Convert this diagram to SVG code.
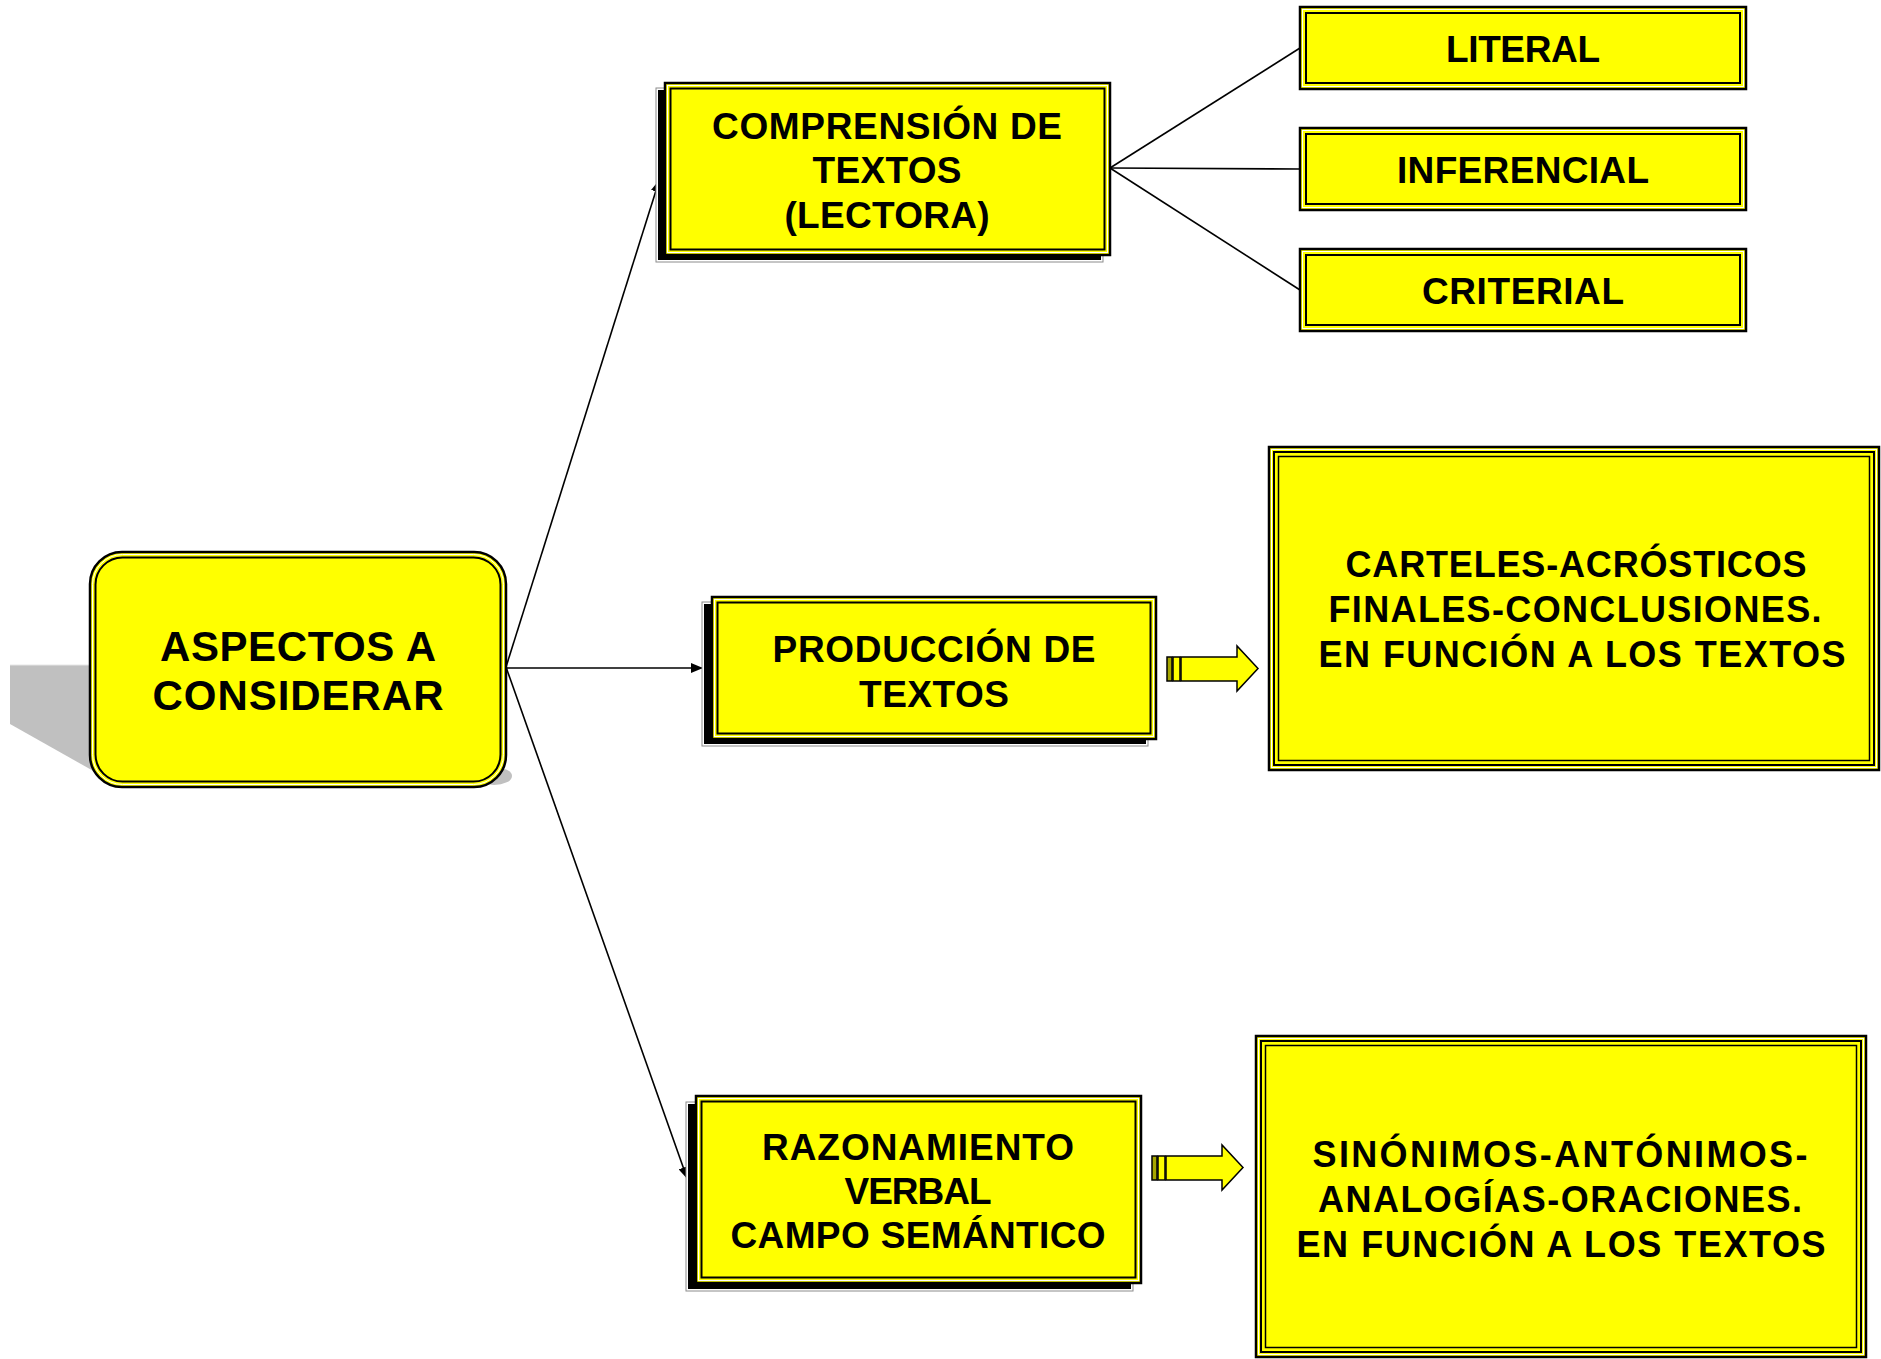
<svg xmlns="http://www.w3.org/2000/svg" width="1881" height="1359" viewBox="0 0 1881 1359">
<defs>
<style>
text{font-family:"Liberation Sans",Arial,sans-serif;font-weight:bold;fill:#000;text-anchor:middle}
.t37{font-size:37px}
.t42{font-size:42px}
.t36{font-size:36px}
.o{fill:#ffff00;stroke:#000;stroke-width:2.5}
.w{fill:none;stroke:#fff;stroke-width:1}
.i{fill:none;stroke:#000;stroke-width:2}
.back{fill:#000;stroke:#fff;stroke-width:2}
.backg{fill:none;stroke:#8c8c8c;stroke-width:1}
.ln{fill:none;stroke:#000;stroke-width:1.6}
.blk{fill:#ffff00;stroke:#000;stroke-width:1.5}
</style>
<marker id="ah" markerUnits="userSpaceOnUse" markerWidth="12" markerHeight="10" refX="11" refY="5" orient="auto"><path d="M0,0 L12,5 L0,10 Z" fill="#000"/></marker>
</defs>
<rect x="0" y="0" width="1881" height="1359" fill="#fff"/>

<g id="connectors">
<line class="ln" x1="506" y1="667" x2="659" y2="181" marker-end="url(#ah)"/>
<line class="ln" x1="506" y1="668" x2="702" y2="668" marker-end="url(#ah)"/>
<line class="ln" x1="506" y1="667" x2="687" y2="1178" marker-end="url(#ah)"/>
<line class="ln" x1="1110" y1="168" x2="1300" y2="48"/>
<line class="ln" x1="1110" y1="168" x2="1300" y2="169"/>
<line class="ln" x1="1110" y1="168" x2="1300" y2="290"/>
<g id="flecha1">
<rect x="1167" y="657" width="5" height="24" fill="#a6a600" stroke="#000" stroke-width="1.5"/>
<rect x="1173" y="657" width="7" height="24" class="blk"/>
<polygon points="1181,657 1237,657 1237,646 1258,668.5 1237,691 1237,681 1181,681" class="blk"/>
</g>
<g id="flecha2">
<rect x="1152" y="1156" width="5" height="24" fill="#a6a600" stroke="#000" stroke-width="1.5"/>
<rect x="1158" y="1156" width="7" height="24" class="blk"/>
<polygon points="1166,1156 1222,1156 1222,1145 1243,1167.5 1222,1190 1222,1180 1166,1180" class="blk"/>
</g>
</g>

<g id="aspectos">
<path d="M10,665 H200 V786 H120 L10,724 Z" fill="#c0c0c0"/>
<line x1="10" y1="665" x2="200" y2="665" stroke="#e6e6e6" stroke-width="1"/>
<ellipse cx="494" cy="776" rx="18" ry="9" fill="#c0c0c0"/>
<rect x="90" y="552" width="416" height="235" rx="32" class="o"/>
<rect x="92.5" y="554.5" width="411" height="230" rx="30" class="w"/>
<rect x="95.5" y="557.5" width="405" height="224" rx="27" class="i"/>
<text class="t42" x="298" y="661" textLength="276" lengthAdjust="spacing">ASPECTOS A</text>
<text class="t42" x="298" y="710" textLength="291" lengthAdjust="spacing">CONSIDERAR</text>
</g>

<g id="comprension">
<rect x="657" y="89" width="445" height="172" class="back"/>
<rect x="656" y="88" width="447" height="174" class="backg"/>
<rect x="665" y="83" width="445" height="172" class="o"/>
<rect x="667.5" y="85.5" width="440" height="167" class="w"/>
<rect x="670.5" y="88.5" width="434" height="161" class="i"/>
<text class="t37" x="887" y="139" textLength="350" lengthAdjust="spacing">COMPRENSIÓN DE</text>
<text class="t37" x="887" y="183" textLength="149" lengthAdjust="spacing">TEXTOS</text>
<text class="t37" x="887" y="228" textLength="205" lengthAdjust="spacing">(LECTORA)</text>
</g>

<g id="literal">
<rect x="1300" y="7" width="446" height="82" class="o"/>
<rect x="1302.5" y="9.5" width="441" height="77" class="w"/>
<rect x="1306" y="13" width="434" height="70" class="i"/>
<text class="t37" x="1523" y="62" textLength="154" lengthAdjust="spacing">LITERAL</text>
</g>
<g id="inferencial">
<rect x="1300" y="128" width="446" height="82" class="o"/>
<rect x="1302.5" y="130.5" width="441" height="77" class="w"/>
<rect x="1306" y="134" width="434" height="70" class="i"/>
<text class="t37" x="1523" y="183" textLength="252" lengthAdjust="spacing">INFERENCIAL</text>
</g>
<g id="criterial">
<rect x="1300" y="249" width="446" height="82" class="o"/>
<rect x="1302.5" y="251.5" width="441" height="77" class="w"/>
<rect x="1306" y="255" width="434" height="70" class="i"/>
<text class="t37" x="1523" y="304" textLength="202" lengthAdjust="spacing">CRITERIAL</text>
</g>

<g id="produccion">
<rect x="703" y="603" width="444" height="142" class="back"/>
<rect x="702" y="602" width="446" height="144" class="backg"/>
<rect x="712" y="597" width="444" height="142" class="o"/>
<rect x="714.5" y="599.5" width="439" height="137" class="w"/>
<rect x="717.5" y="602.5" width="433" height="131" class="i"/>
<text class="t37" x="934" y="662" textLength="323" lengthAdjust="spacing">PRODUCCIÓN DE</text>
<text class="t37" x="934" y="707" textLength="150" lengthAdjust="spacing">TEXTOS</text>
</g>

<g id="razonamiento">
<rect x="687" y="1103" width="445" height="187" class="back"/>
<rect x="686" y="1102" width="447" height="189" class="backg"/>
<rect x="696" y="1096" width="445" height="187" class="o"/>
<rect x="698.5" y="1098.5" width="440" height="182" class="w"/>
<rect x="701.5" y="1101.5" width="434" height="176" class="i"/>
<text class="t37" x="918" y="1160" textLength="312" lengthAdjust="spacing">RAZONAMIENTO</text>
<text class="t37" x="918" y="1204" textLength="147" lengthAdjust="spacing">VERBAL</text>
<text class="t37" x="918" y="1248" textLength="375" lengthAdjust="spacing">CAMPO SEMÁNTICO</text>
</g>

<g id="carteles">
<rect x="1269" y="447" width="610" height="323" class="o"/>
<rect x="1271.5" y="449.5" width="605" height="318" class="w"/>
<rect x="1274" y="452" width="600" height="313" class="i"/>
<rect x="1278.5" y="456.5" width="591" height="304" fill="none" stroke="#000" stroke-width="1.5"/>
<text class="t36" x="1576" y="577" textLength="461" lengthAdjust="spacing">CARTELES-ACRÓSTICOS</text>
<text class="t36" x="1575" y="622" textLength="493" lengthAdjust="spacing">FINALES-CONCLUSIONES.</text>
<text class="t36" x="1582" y="667" textLength="527" lengthAdjust="spacing">EN FUNCIÓN A LOS TEXTOS</text>
</g>

<g id="sinonimos">
<rect x="1256" y="1036" width="610" height="321" class="o"/>
<rect x="1258.5" y="1038.5" width="605" height="316" class="w"/>
<rect x="1261" y="1041" width="600" height="311" class="i"/>
<rect x="1265.5" y="1045.5" width="591" height="302" fill="none" stroke="#000" stroke-width="1.5"/>
<text class="t36" x="1560" y="1167" textLength="495" lengthAdjust="spacing">SINÓNIMOS-ANTÓNIMOS-</text>
<text class="t36" x="1560" y="1212" textLength="484" lengthAdjust="spacing">ANALOGÍAS-ORACIONES.</text>
<text class="t36" x="1561" y="1257" textLength="529" lengthAdjust="spacing">EN FUNCIÓN A LOS TEXTOS</text>
</g>
</svg>
